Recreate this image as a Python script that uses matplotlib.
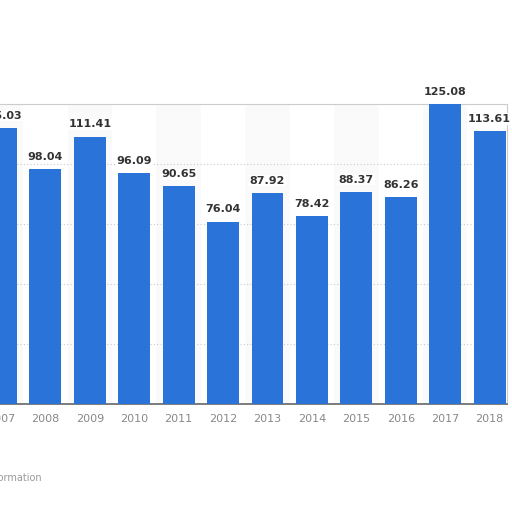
import matplotlib.pyplot as plt

years = ['2007', '2008', '2009', '2010', '2011', '2012', '2013',
         '2014', '2015', '2016', '2017', '2018']
values = [115.03, 98.04, 111.41, 96.09, 90.65, 76.04, 87.92,
          78.42, 88.37, 86.26, 125.08, 113.61]

bar_color = '#2a74d9'

fig = plt.figure(figsize=(5.12, 5.12), dpi=100)
ax = fig.add_axes([0.0, 1 - 404 / 512, 507 / 512, 300 / 512])

x = list(range(len(years)))

# very light alternating column bands
for i in x:
    if i % 2 == 0:
        ax.axvspan(i - 0.5, i + 0.5, color='#fafafa', zorder=0, lw=0)

ax.bar(x, values, width=0.72, color=bar_color, zorder=3)

for xi, v in zip(x, values):
    ax.text(xi, v + 3, f'{v:.2f}', ha='center', va='bottom',
            fontsize=8, fontweight='bold', color='#333333', zorder=4,
            bbox=dict(facecolor='white', edgecolor='none', pad=0.5))

ax.set_xlim(-0.02, 11.39)
ax.set_ylim(0, 125)
ax.set_yticks([25, 50, 75, 100])
ax.yaxis.grid(True, color='#cccccc', linestyle=(0, (1, 2)), lw=0.8, zorder=1)
ax.set_yticklabels([])
ax.tick_params(axis='y', length=0)

ax.set_xticks(x)
ax.set_xticklabels(years, fontsize=8, color='#888888')
ax.tick_params(axis='x', length=0, pad=7)

ax.spines['left'].set_visible(False)
ax.spines['top'].set_color('#cccccc')
ax.spines['right'].set_color('#cccccc')
ax.spines['bottom'].set_color('#666666')
ax.spines['bottom'].set_linewidth(1.2)

# footer link, cropped at the left edge like the reference
fig.text(42 / 512, 1 - 478 / 512, 'Additional Information', ha='right',
         va='center', fontsize=7, color='#999999')

fig.savefig('out.png', dpi=100)
